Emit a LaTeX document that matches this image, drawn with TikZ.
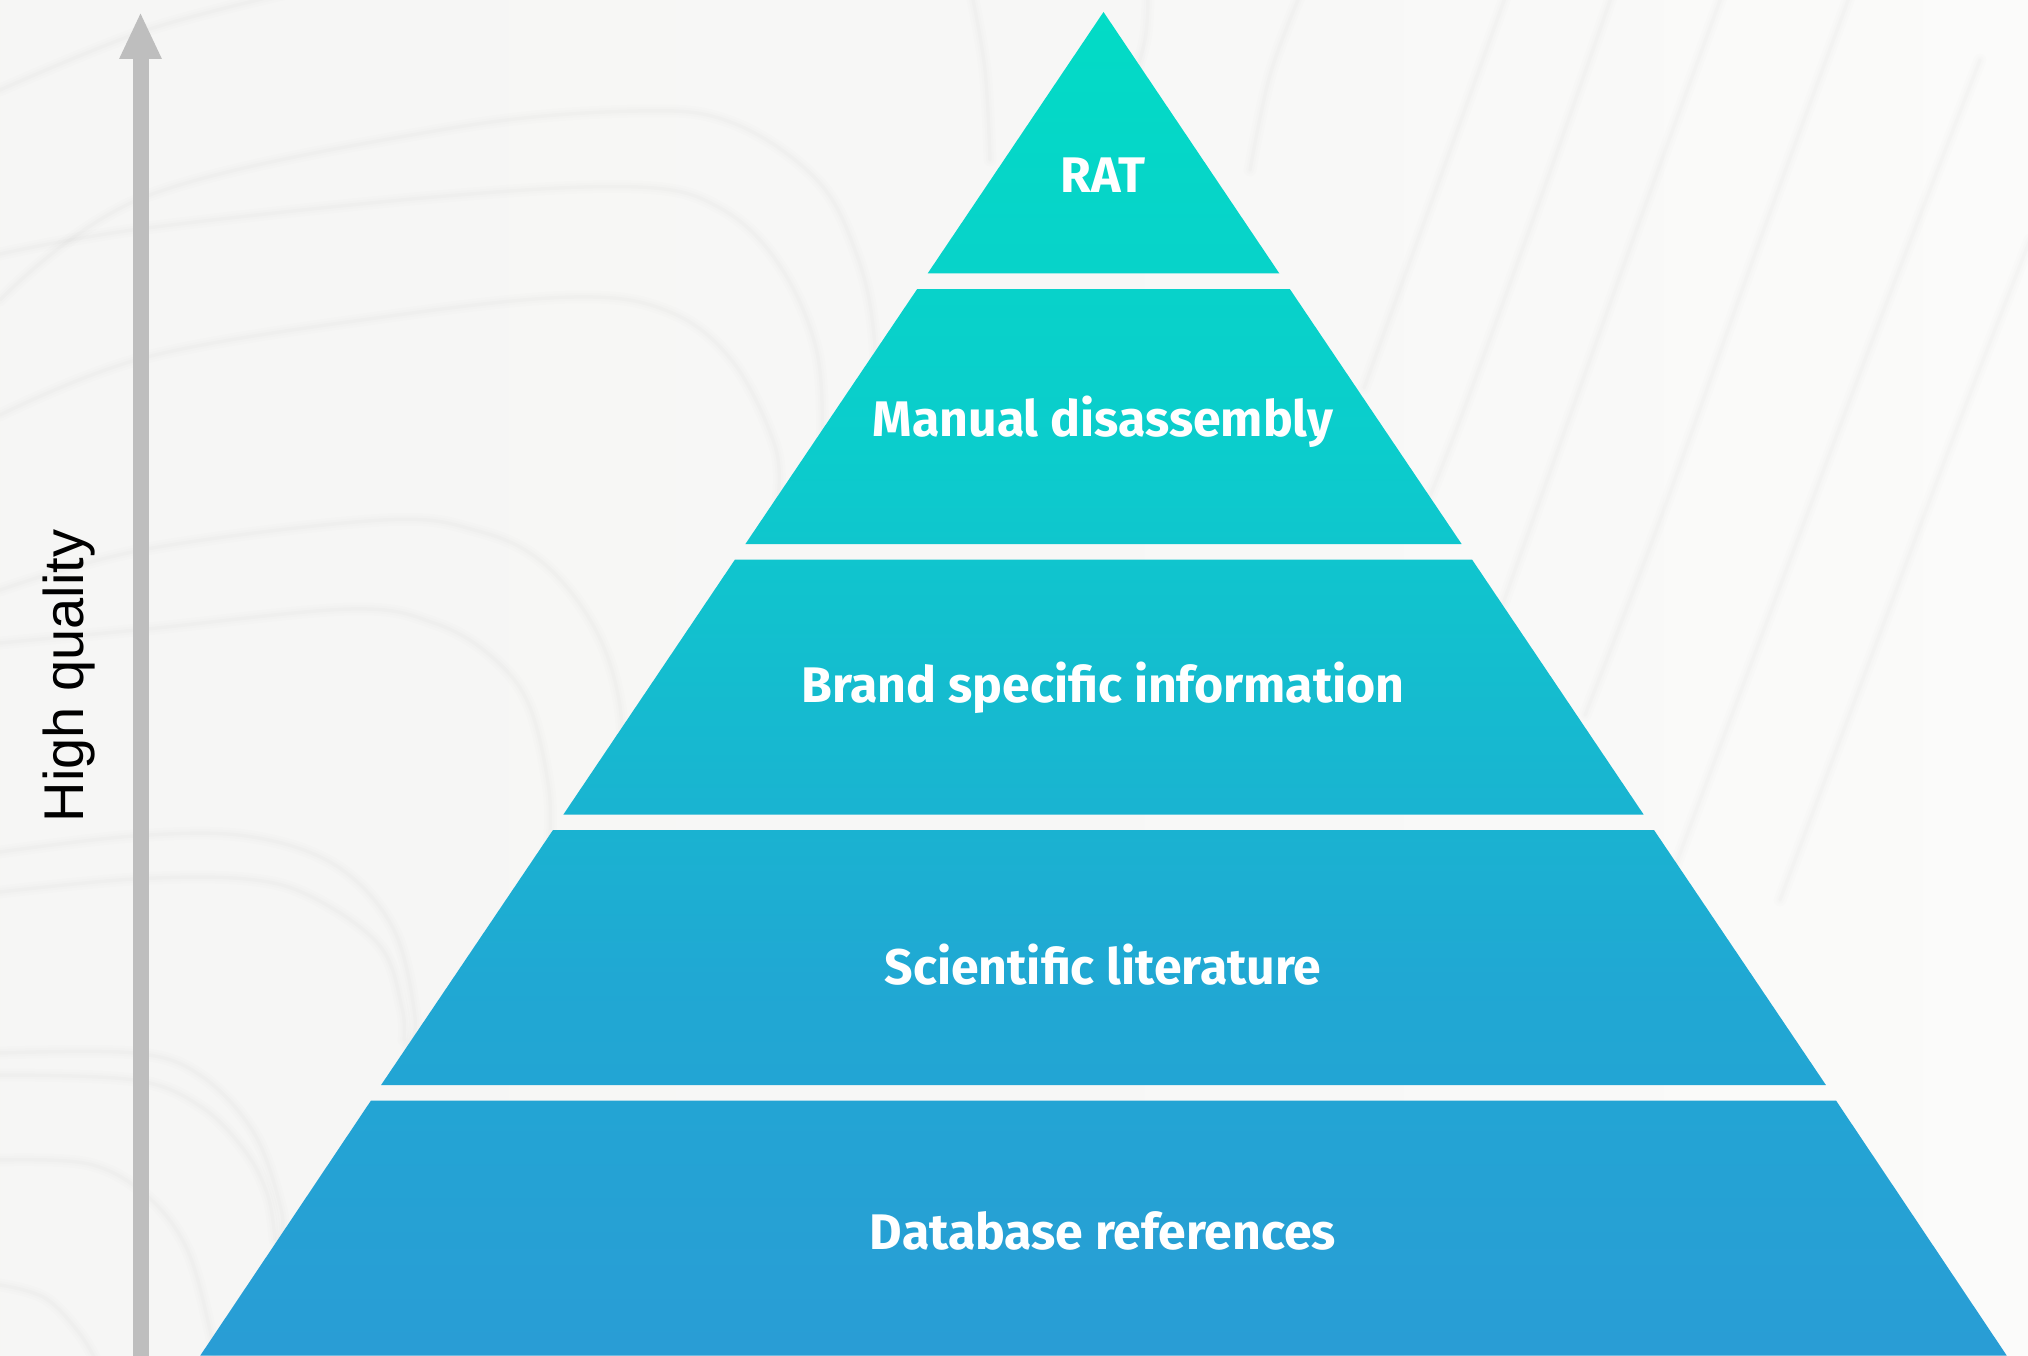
\documentclass[tikz,border=0pt]{standalone}
\usepackage{fontspec}
\usetikzlibrary{arrows.meta}
\setmainfont{Fira Sans}
\newfontfamily\labelfont{Fira Sans}[UprightFont=* Bold]
\newfontfamily\axisfont{Liberation Sans}
\definecolor{arrowgrey}{HTML}{BEBEBE}
\definecolor{bgA}{HTML}{F5F5F3}
\definecolor{bgB}{HTML}{F7F7F6}
\definecolor{bgC}{HTML}{FCFCFB}
\definecolor{pyA}{HTML}{3F7CDB}
\definecolor{pyB}{HTML}{2D98D6}
\definecolor{pyC}{HTML}{20A8D3}
\definecolor{pyD}{HTML}{14BBD0}
\definecolor{pyE}{HTML}{0BCDCC}
\definecolor{pyF}{HTML}{00DFC4}
\definecolor{pyG}{HTML}{22DDAC}
\pgfdeclareverticalshading{pyramidshade}{100bp}{
  color(0bp)=(pyA);
  color(19bp)=(pyB);
  color(39bp)=(pyC);
  color(59bp)=(pyE);
  color(79.4bp)=(pyF);
  color(81bp)=(pyF!90!pyG);
  color(100bp)=(pyG)}
\pgfdeclarehorizontalshading{paper}{100bp}{
  color(0bp)=(bgA);
  color(50bp)=(bgB);
  color(82bp)=(bgC);
  color(100bp)=(bgC)}
\tikzset{
  tierlabel/.style={text=white,font=\labelfont\fontsize{50}{60}\selectfont,anchor=base},
  axislabel/.style={text=black,font=\axisfont\fontsize{56}{60}\selectfont,rotate=90,anchor=base},
  softA/.style={draw=black,line width=13pt,opacity=.007,line cap=round,line join=round},
  softB/.style={draw=black,line width=8pt,opacity=.009,line cap=round,line join=round},
  softC/.style={draw=black,line width=3.5pt,opacity=.012,line cap=round,line join=round}
}
\newcommand{\softcurve}[1]{%
  \draw[softA] plot[smooth,tension=.6] coordinates {#1};
  \draw[softB] plot[smooth,tension=.6] coordinates {#1};
  \draw[softC] plot[smooth,tension=.6] coordinates {#1};}
\begin{document}
\begin{tikzpicture}[x=1pt,y=-1pt]
\useasboundingbox (0,0) rectangle (2028,1356);
\shade[shading=paper] (0,0) rectangle (2028,1356);
% marble veins, left
\softcurve{(0,300)(147,196)(446,129)(638,111)(733,123)(816,179)(855,250)(874,335)(878,480)}
\softcurve{(0,254)(147,228)(446,196)(638,187)(720,208)(778,263)(816,348)(823,446)(823,520)}
\softcurve{(0,415)(147,357)(383,317)(574,297)(670,312)(733,362)(775,446)(778,500)}
\softcurve{(0,590)(147,549)(383,520)(478,531)(542,562)(593,625)(619,700)(625,800)}
\softcurve{(0,643)(147,629)(351,609)(434,623)(491,656)(529,705)(549,790)(549,850)}
\softcurve{(0,852)(134,836)(246,836)(335,865)(393,928)(415,1017)(408,1048)}
\softcurve{(0,892)(134,879)(246,879)(312,897)(380,946)(402,1008)(404,1040)}
\softcurve{(0,1053)(134,1053)(200,1075)(254,1133)(281,1209)(281,1240)}
\softcurve{(0,1075)(134,1080)(200,1106)(245,1151)(268,1196)(275,1240)}
\softcurve{(0,1160)(89,1164)(147,1196)(187,1249)(210,1330)(215,1365)}
\softcurve{(0,1285)(45,1298)(80,1334)(98,1365)}
\softcurve{(0,90)(147,30)(300,-10)}
% marble veins, centre and right
\softcurve{(972,-5)(985,70)(990,160)}
\softcurve{(1148,-5)(1145,40)(1130,90)}
\softcurve{(1300,-5)(1270,75)(1250,170)}
\softcurve{(1506,-5)(1434,195)(1364,388)}
\softcurve{(1612,-5)(1540,200)(1460,420)(1420,520)}
\softcurve{(1722,-5)(1640,220)(1540,500)(1490,640)}
\softcurve{(1850,-5)(1760,240)(1660,520)(1585,715)}
\softcurve{(1980,60)(1880,320)(1790,560)(1700,800)(1640,960)}
\softcurve{(2030,240)(1960,420)(1870,660)(1780,900)}
% arrow
\coordinate (arrowstart) at (140.5,1356);
\coordinate (arrowtip) at (140.5,12);
\draw[arrowgrey,line width=16pt,-{Triangle[width=39pt,length=47pt]}] (arrowstart) -- (arrowtip);
% pyramid
\shade[shading=pyramidshade]
  (1103.5,12) -- (1279.4,273.5) -- (927.6,273.5) -- cycle
  (917.2,289) -- (1289.8,289) -- (1461.6,544) -- (745.4,544) -- cycle
  (735,559.5) -- (1472,559.5) -- (1643.6,814.5) -- (563.4,814.5) -- cycle
  (553,830) -- (1654,830) -- (1825.9,1085) -- (381.1,1085) -- cycle
  (371,1100.5) -- (1836,1100.5) -- (2006.7,1355.5) -- (200.3,1355.5) -- cycle;
\node[tierlabel] (rat) at (1103,193) {RAT};
\node[tierlabel] (manual) at (1103,436) {Manual disassembly};
\node[tierlabel] (brand) at (1103,702) {Brand specific information};
\node[tierlabel] (sci) at (1103,984) {Scientific literature};
\node[tierlabel] (db) at (1103,1249) {Database references};
\node[axislabel] (hq) at (83,676) {High quality};
\end{tikzpicture}
\end{document}
